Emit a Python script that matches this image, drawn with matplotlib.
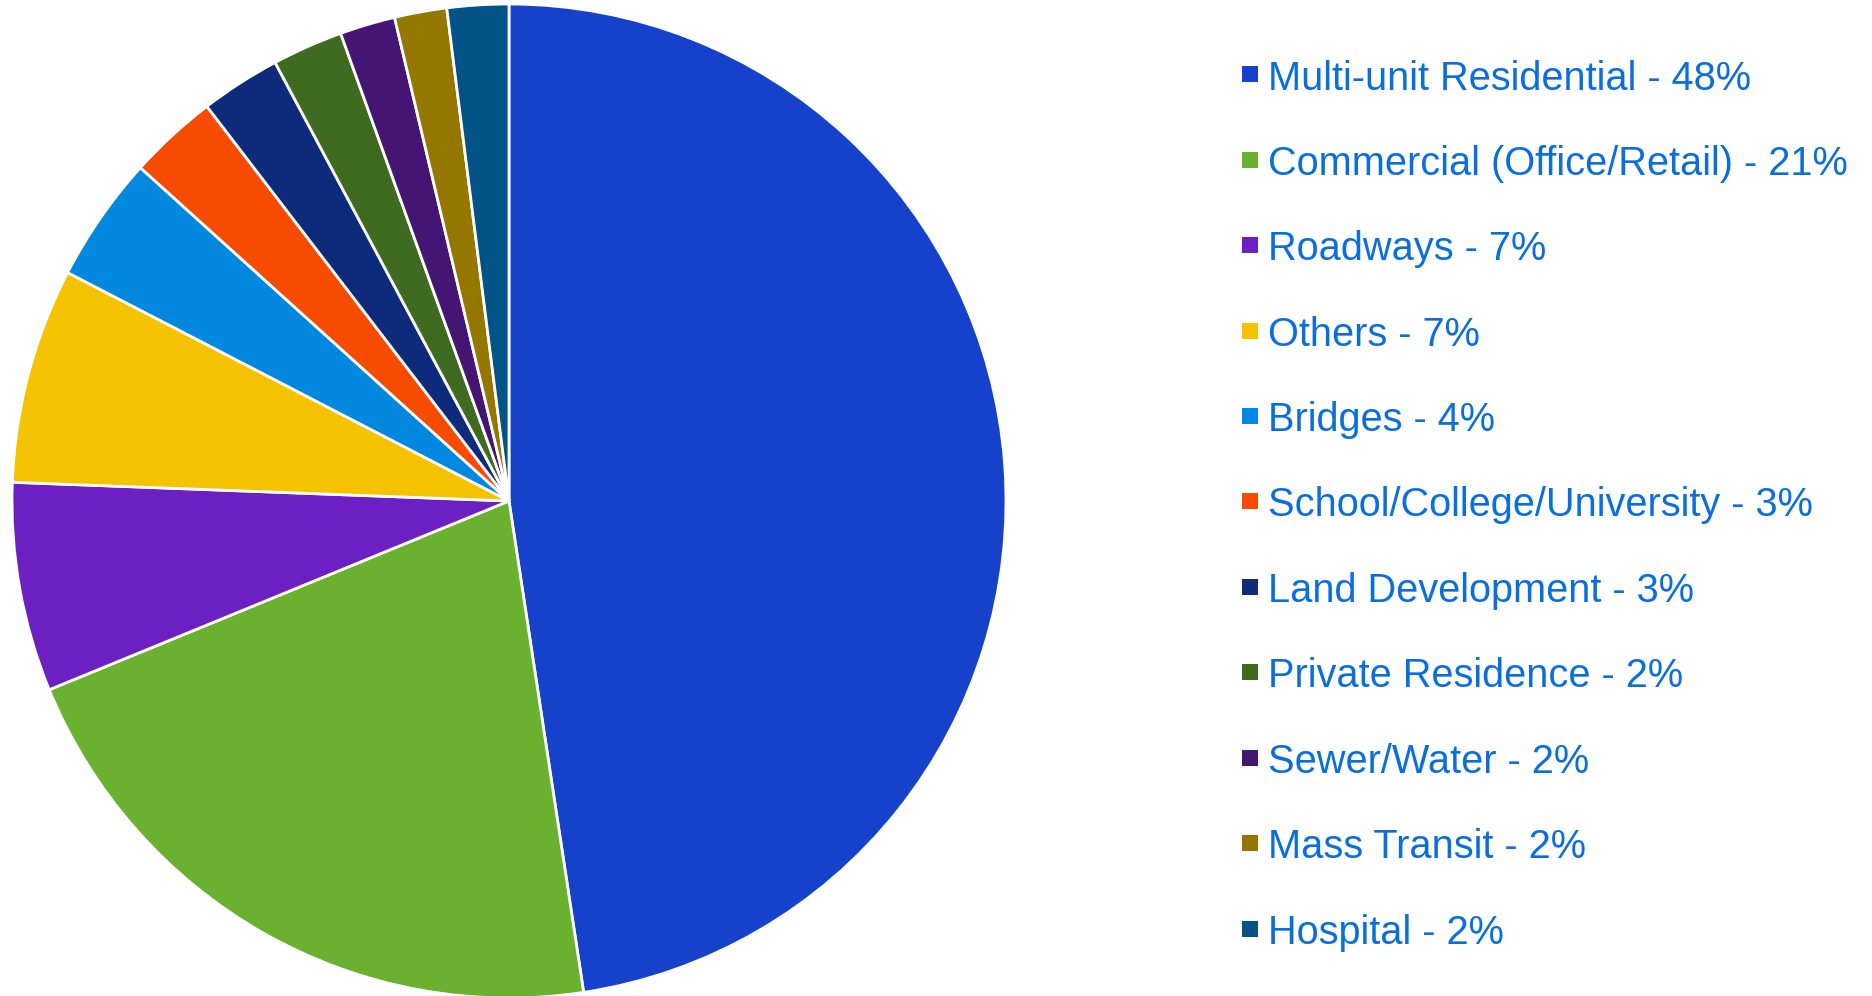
import matplotlib
matplotlib.use("Agg")
import matplotlib.pyplot as plt
from matplotlib.patches import Rectangle

plt.rcParams['font.family'] = ['Liberation Sans', 'DejaVu Sans']

# data (slice shares in %)
categories = ['Multi-unit Residential', 'Commercial (Office/Retail)', 'Roadways', 'Others',
              'Bridges', 'School/College/University', 'Land Development', 'Private Residence',
              'Sewer/Water', 'Mass Transit', 'Hospital']
shares = [47.6, 21.2, 6.8, 7.0, 4.1, 2.9, 2.6, 2.3, 1.8, 1.7, 2.0]
colors = ['#1541CB', '#6AB130', '#6C20C3', '#F5C200', '#0288DE', '#F64B00',
          '#0D2A7B', '#3E6B20', '#451574', '#957700', '#025386']
text_color = '#0A6EDC'

W, H = 1872, 996
fig = plt.figure(figsize=(W / 100, H / 100), dpi=100)

# pie: centre ~ (509, 501) px from top-left, radius ~497 px
cx, cy, r = 509, 501, 497
ax = fig.add_axes([(cx - r) / W, (H - cy - r) / H, 2 * r / W, 2 * r / H])
ax.pie(shares, colors=colors, startangle=90, counterclock=False, radius=1,
       wedgeprops=dict(edgecolor='white', linewidth=2))
ax.set_xlim(-1.0, 1.0)
ax.set_ylim(-1.0, 1.0)
ax.set_aspect('equal')
ax.axis('off')

# legend drawn by hand
x_box, box = 1242, 16
y0, step = 74.5, 85.4
for i, (name, v, col) in enumerate(zip(categories, shares, colors)):
    yc = y0 + i * step
    fig.add_artist(Rectangle((x_box / W, (H - yc - box / 2) / H), box / W, box / H,
                             transform=fig.transFigure, facecolor=col, edgecolor='none'))
    fig.text(1268 / W, (H - yc) / H, f'{name} - {round(v)}%', color=text_color,
             fontsize=28.6, va='center_baseline', ha='left')

fig.savefig('out.png', dpi=100, facecolor='white')
